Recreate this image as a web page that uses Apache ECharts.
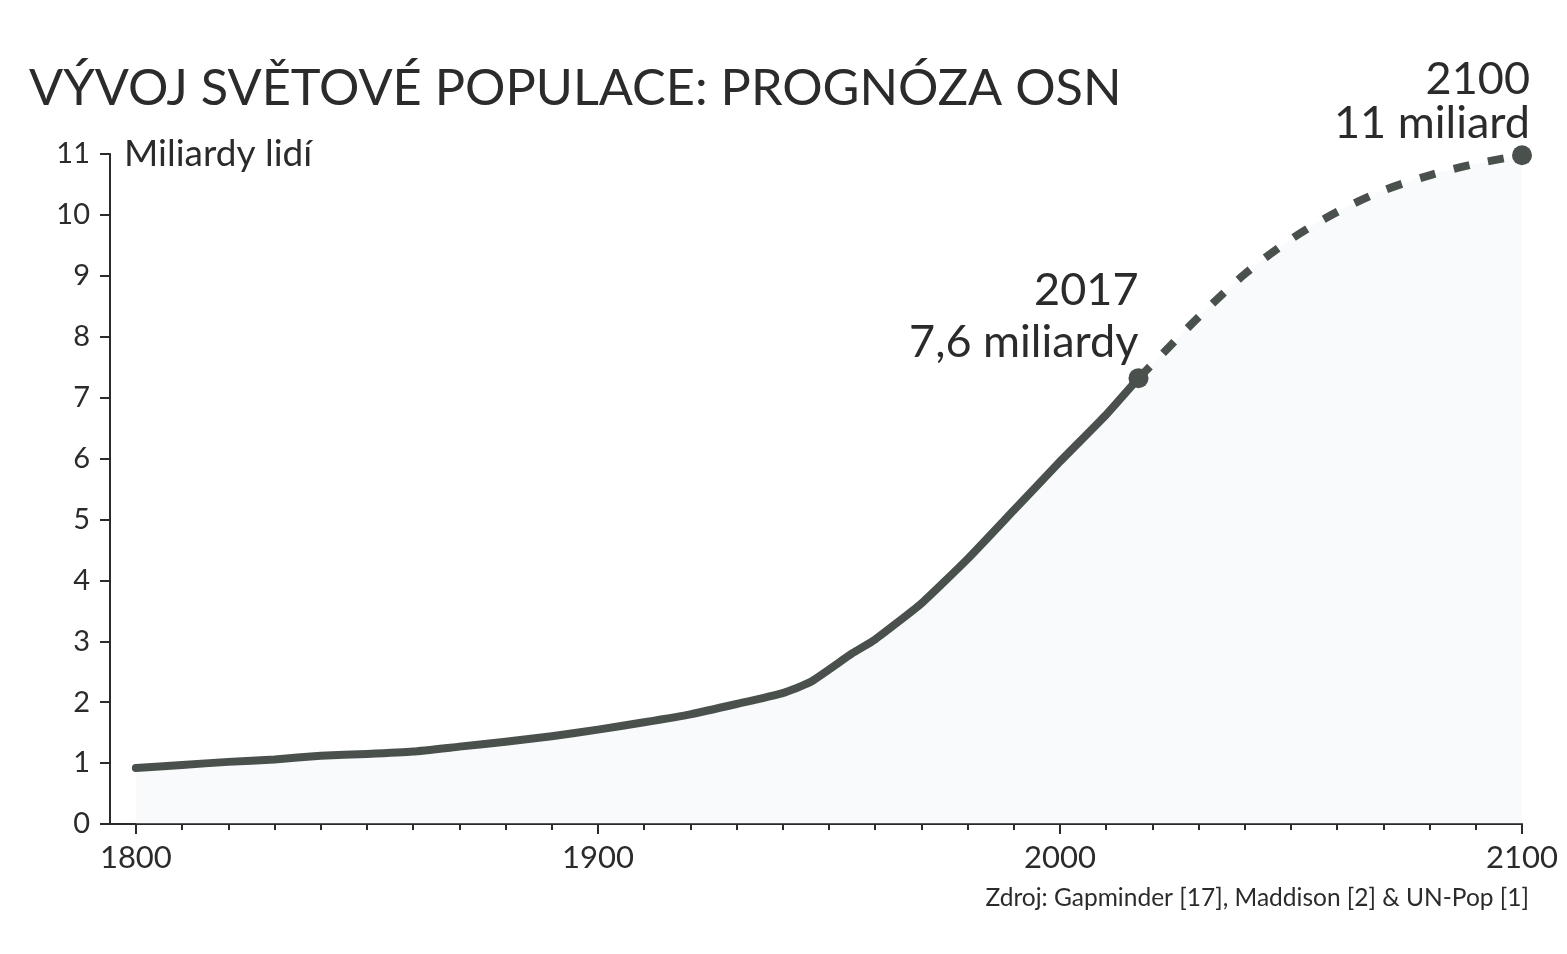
<!DOCTYPE html>
<html>
<head>
<meta charset="utf-8">
<title>Vývoj světové populace</title>
<script src="https://cdn.jsdelivr.net/npm/echarts@6/dist/echarts.min.js"></script>
<style>
  html, body { margin: 0; padding: 0; background: #fff; }
  #chart { width: 1567px; height: 954px; }
</style>
</head>
<body>
<div id="chart"></div>
<script>
// historical estimate (billions)
const histYears = [1800, 1810, 1820, 1830, 1840, 1850, 1860, 1870, 1880, 1890, 1900, 1910, 1920, 1930, 1940, 1946, 1955, 1960, 1970, 1980, 1990, 2000, 2010, 2017];
const histValues = [0.92, 0.97, 1.02, 1.06, 1.12, 1.15, 1.19, 1.27, 1.35, 1.44, 1.55, 1.67, 1.8, 1.97, 2.15, 2.33, 2.8, 3.03, 3.62, 4.35, 5.15, 5.95, 6.72, 7.32];

// UN projection
const projYears = [2017, 2020, 2030, 2040, 2050, 2060, 2070, 2080, 2090, 2100];
const projValues = [7.32, 7.55, 8.32, 9.03, 9.6, 10.05, 10.4, 10.65, 10.84, 10.98];

// highlighted points
const keyYears = [2017, 2100];
const keyValues = [7.32, 10.98];
const keyLabels = ['2017\n7,6 miliardy', '2100\n11 miliard'];

const xMajorTicks = [1800, 1900, 2000, 2100];
const xMinorTicks = [];
for (let y = 1800; y <= 2100; y += 10) xMinorTicks.push(y);

const FONT = 'Lato';
const INK = '#2b2b2b';
const LINE = '#4a514d';

const chart = echarts.init(document.getElementById('chart'));

const pairs = (xs, ys) => xs.map((x, i) => [x, ys[i]]);

const option = {
  backgroundColor: '#fff',
  animation: false,
  textStyle: { fontFamily: FONT },
  title: [
    {
      text: 'VÝVOJ SVĚTOVÉ POPULACE: PROGNÓZA OSN',
      left: 29,
      top: 63,
      padding: 0,
      textStyle: { fontFamily: FONT, fontSize: 50.5, fontWeight: 'normal', color: INK }
    },
    {
      text: 'Zdroj: Gapminder [17], Maddison [2] & UN-Pop [1]',
      right: 38,
      top: 886,
      padding: 0,
      textStyle: { fontFamily: FONT, fontSize: 24.5, fontWeight: 'normal', color: INK }
    }
  ],
  grid: { left: 110, right: 45, top: 154, bottom: 130, containLabel: false },
  xAxis: [
    {
      type: 'value',
      min: 1794.4,
      max: 2100,
      axisLine: { lineStyle: { color: INK, width: 2 } },
      axisTick: { customValues: xMinorTicks, length: 6, lineStyle: { color: INK, width: 2 } },
      axisLabel: {
        customValues: xMajorTicks,
        formatter: (v) => String(v),
        margin: 18,
        fontSize: 31,
        color: INK,
        fontFamily: FONT
      },
      splitLine: { show: false }
    },
    {
      type: 'value',
      min: 1794.4,
      max: 2100,
      position: 'bottom',
      axisLine: { show: false },
      axisTick: { customValues: xMajorTicks, length: 10, lineStyle: { color: INK, width: 2 } },
      axisLabel: { show: false },
      splitLine: { show: false }
    }
  ],
  yAxis: {
    type: 'value',
    min: 0,
    max: 11,
    interval: 1,
    name: 'Miliardy lidí',
    nameLocation: 'end',
    nameGap: 0,
    nameTextStyle: {
      fontFamily: FONT, fontSize: 37, color: INK,
      align: 'left', verticalAlign: 'middle', padding: [16, 0, 0, 14]
    },
    axisLine: { show: true, lineStyle: { color: INK, width: 2 } },
    axisTick: { show: true, length: 10, lineStyle: { color: INK, width: 2 } },
    axisLabel: { margin: 20, fontSize: 29, color: INK, fontFamily: FONT },
    splitLine: { show: false }
  },
  series: [
    {
      name: 'historie',
      type: 'line',
      data: pairs(histYears, histValues),
      smooth: 0.15,
      symbol: 'none',
      lineStyle: { color: LINE, width: 8, cap: 'round', join: 'round' },
      areaStyle: { color: 'rgba(225,233,242,0.35)' },
      z: 3
    },
    {
      name: 'prognóza',
      type: 'line',
      data: pairs(projYears, projValues),
      smooth: 0.3,
      symbol: 'none',
      lineStyle: { color: LINE, width: 8, type: [16, 19], cap: 'butt' },
      areaStyle: { color: 'rgba(225,233,242,0.35)' },
      z: 3
    },
    {
      name: 'body',
      type: 'scatter',
      data: pairs(keyYears, keyValues).map((p, i) => ({
        value: p,
        label: i === 0
          ? { formatter: keyLabels[i], lineHeight: 52 }
          : { formatter: keyLabels[i], lineHeight: 44, offset: [8, 0] }
      })),
      symbolSize: 20,
      itemStyle: { color: LINE, opacity: 1 },
      label: {
        show: true,
        position: 'top',
        align: 'right',
        distance: 0,
        fontFamily: FONT,
        fontSize: 45,
        color: INK
      },
      z: 4
    }
  ]
};

chart.setOption(option);
</script>
</body>
</html>
